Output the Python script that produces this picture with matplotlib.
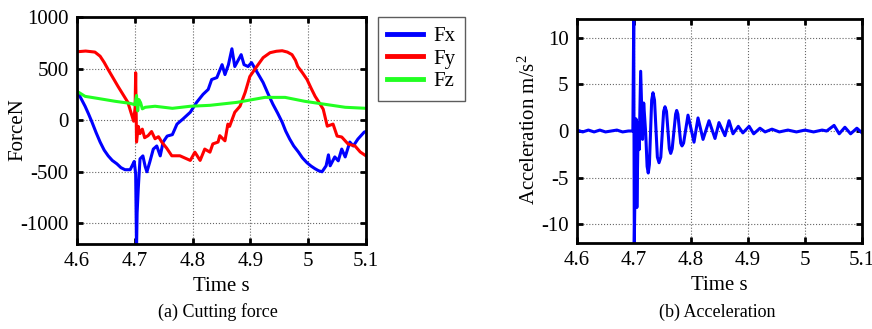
import matplotlib
matplotlib.use('Agg')
import matplotlib.pyplot as plt

plt.rcParams['font.family'] = ['Liberation Serif', 'DejaVu Serif']
plt.rcParams['mathtext.default'] = 'regular'
plt.rcParams['axes.unicode_minus'] = False

# ---- (a) cutting force ----
fx_t = [4.600, 4.607, 4.614, 4.620, 4.626, 4.633, 4.640, 4.647, 4.654, 4.661,
        4.669, 4.676, 4.683, 4.692, 4.697, 4.699,
        4.7015, 4.703, 4.704, 4.706, 4.709, 4.714, 4.718, 4.721, 4.726, 4.732,
        4.738, 4.744, 4.749, 4.756, 4.765, 4.773, 4.783, 4.796, 4.807, 4.818,
        4.827, 4.833, 4.842, 4.851, 4.856, 4.862, 4.868, 4.873, 4.884, 4.889,
        4.896, 4.902, 4.911, 4.922, 4.931, 4.939, 4.947, 4.955, 4.961, 4.968,
        4.975, 4.983, 4.990, 4.998, 5.005, 5.012, 5.018, 5.024, 5.031, 5.035,
        5.038, 5.046, 5.052, 5.058, 5.064, 5.072, 5.078, 5.086, 5.097, 5.100]
fx = [280, 210, 135, 60, -20, -120, -212, -290, -346, -390,
      -423, -460, -480, -480, -423, -400,
      -520, -1250, -900, -663, -375, -346, -450, -500, -404, -280,
      -250, -346, -212, -154, -140, -38, 10, 77, 173, 250,
      298, 394, 413, 538, 442, 538, 692, 520, 635, 538,
      520, 558, 471, 365, 250, 154, 70, -20, -105, -183,
      -250, -308, -365, -413, -445, -471, -490, -500, -442, -336,
      -442, -356, -394, -280, -356, -212, -250, -183, -115, -110]

fy_t = [4.600, 4.615, 4.631, 4.640, 4.647, 4.654, 4.671, 4.688, 4.698, 4.7005,
        4.7015, 4.703, 4.706, 4.709, 4.713, 4.717, 4.723, 4.729, 4.735, 4.741,
        4.747, 4.755, 4.764, 4.778, 4.796, 4.804, 4.813, 4.821, 4.830, 4.835,
        4.844, 4.847, 4.856, 4.861, 4.864, 4.873, 4.882, 4.891, 4.899, 4.911,
        4.922, 4.934, 4.945, 4.955, 4.964, 4.972, 4.978, 4.982, 4.990, 4.998,
        5.005, 5.012, 5.019, 5.026, 5.033, 5.043, 5.050, 5.058, 5.069, 5.081,
        5.090, 5.100]
fy = [663, 670, 660, 620, 560, 490, 327, 173, -10, 120,
      460, -212, -60, -130, -87, -170, -150, -110, -180, -160,
      -215, -270, -345, -345, -390, -310, -390, -280, -310, -230,
      -212, -150, -200, -38, -60, 77, 135, 270, 423, 520,
      606, 654, 668, 673, 660, 635, 580, 520, 460, 394,
      310, 231, 170, 106, -58, -38, -154, -163, -231, -250,
      -308, -346]

fz_t = [4.600, 4.614, 4.636, 4.666, 4.692, 4.700, 4.703, 4.705, 4.707, 4.710,
        4.713, 4.718, 4.735, 4.765, 4.796, 4.830, 4.877, 4.925, 4.960, 4.994,
        5.029, 5.064, 5.100]
fz = [280, 231, 211, 183, 163, 150, 240, 90, 200, 170,
      110, 125, 135, 115, 135, 144, 173, 221, 221, 183,
      154, 125, 115]

# ---- (b) acceleration ----
acc_t = [4.600, 4.610, 4.620, 4.630, 4.640, 4.650, 4.660, 4.670, 4.680, 4.690,
         4.698, 4.6995, 4.7005, 4.7035, 4.705, 4.7075, 4.709, 4.7117, 4.715, 4.717,
         4.7205, 4.723, 4.725, 4.727, 4.731, 4.7333, 4.736, 4.741, 4.7439, 4.747,
         4.752, 4.7544, 4.757, 4.762, 4.7644, 4.767, 4.773, 4.7749, 4.777, 4.782,
         4.7842, 4.787, 4.7947, 4.8053, 4.8123, 4.8211, 4.8316, 4.8421, 4.8491, 4.8596,
         4.8667, 4.8737, 4.883, 4.891, 4.902, 4.910, 4.921, 4.930, 4.942, 4.955,
         4.970, 4.985, 5.000, 5.015, 5.030, 5.038, 5.051, 5.060, 5.070, 5.080,
         5.091, 5.100]
acc = [0.1, -0.1, 0.1, -0.1, 0.1, -0.1, 0.0, 0.1, -0.1, 0.0,
       0.0, 12.0, -12.0, 1.3, -8.2, 0.9, -2.0, 6.4, -0.9, 3.0,
       -0.2, -3.8, -4.5, -3.6, 3.3, 4.1, 3.3, -2.8, -3.4, -2.8,
       2.1, 2.6, 2.1, -1.9, -2.4, -1.9, 1.8, 2.2, 1.8, -1.3,
       -1.6, -1.3, 1.7, -1.2, 1.4, -0.9, 1.1, -0.8, 0.9, -0.5,
       1.1, -0.3, 0.5, -0.2, 0.5, -0.3, 0.3, -0.1, 0.2, -0.1,
       0.1, -0.1, 0.1, -0.1, 0.1, 0.0, 0.6, -0.3, 0.4, -0.3,
       0.3, -0.2]

x_ticks = [4.6, 4.7, 4.8, 4.9, 5.0, 5.1]
x_labels = ['4.6', '4.7', '4.8', '4.9', '5', '5.1']


def style_axes(ax):
    ax.set_xlim(4.6, 5.1)
    ax.set_xticks(x_ticks)
    ax.set_xticklabels(x_labels)
    ax.grid(True, linestyle=':', color='#666666', linewidth=0.8)
    for s in ax.spines.values():
        s.set_linewidth(2)
    ax.tick_params(direction='in', length=4, width=2, top=True, right=True,
                   labelsize=15, pad=6)


fig = plt.figure(figsize=(8.72, 3.29), dpi=100)

ax1 = fig.add_axes([77/872, 85/329, 289/872, 227/329])
ax1.plot(fx_t, fx, color='#0000ff', lw=2.2, label='Fx')
ax1.plot(fy_t, fy, color='#ff0000', lw=2.2, label='Fy')
ax1.plot(fz_t, fz, color='#22ff22', lw=2.2, label='Fz')
style_axes(ax1)
ax1.set_ylim(-1200, 1000)
ax1.set_yticks([-1000, -500, 0, 500, 1000])
ax1.set_ylabel('ForceN', fontsize=15)
ax1.yaxis.set_label_coords(27/872, 1 - 130/329, transform=fig.transFigure)
ax1.set_xlabel('Time s', fontsize=15, labelpad=4)
fig.text(218/872, 1 - 312/329, '(a) Cutting force', fontsize=13,
         ha='center', va='center')

leg = ax1.legend(loc='upper left', bbox_to_anchor=(378/872, 1 - 17/329),
                 bbox_transform=fig.transFigure, borderaxespad=0,
                 fontsize=15, fancybox=False, edgecolor='#333333',
                 handlelength=1.7, labelspacing=0.15, borderpad=0.45,
                 handletextpad=0.5)
leg.get_frame().set_linewidth(1)
for line in leg.get_lines():
    line.set_linewidth(3.5)

ax2 = fig.add_axes([577/872, 86/329, 285/872, 224/329])
ax2.plot(acc_t, acc, color='#0000ff', lw=2.2)
style_axes(ax2)
ax2.set_ylim(-12, 12)
ax2.set_yticks([-10, -5, 0, 5, 10])
ax2.set_ylabel('Acceleration m/s$^2$', fontsize=15)
ax2.yaxis.set_label_coords(540/872, 1 - 130/329, transform=fig.transFigure)
ax2.set_xlabel('Time s', fontsize=15, labelpad=4)
fig.text(717/872, 1 - 312/329, '(b) Acceleration', fontsize=13,
         ha='center', va='center')

fig.savefig('out.png', dpi=100)
